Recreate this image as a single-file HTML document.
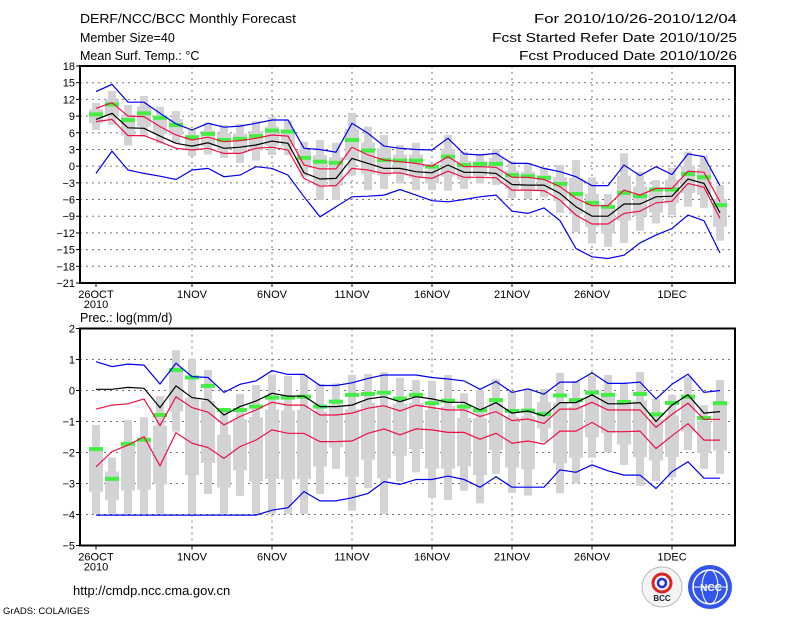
<!DOCTYPE html>
<html><head><meta charset="utf-8"><style>
html,body{margin:0;padding:0;background:#fff;}
svg{display:block;font-family:"Liberation Sans",sans-serif;}
</style></head><body>
<svg id="chart" width="800" height="618" viewBox="0 0 800 618" xmlns="http://www.w3.org/2000/svg">
<g font-size="12.5" fill="#000">
<text x="80" y="23" textLength="216" lengthAdjust="spacingAndGlyphs">DERF/NCC/BCC Monthly Forecast</text>
<text x="80" y="42">Member Size=40</text>
<text x="80" y="60">Mean Surf. Temp.: °C</text>
<text x="737" y="23" text-anchor="end" textLength="203" lengthAdjust="spacingAndGlyphs">For 2010/10/26-2010/12/04</text>
<text x="737" y="42" text-anchor="end" textLength="245" lengthAdjust="spacingAndGlyphs">Fcst Started Refer Date 2010/10/25</text>
<text x="737" y="60" text-anchor="end" textLength="218" lengthAdjust="spacingAndGlyphs">Fcst Produced Date 2010/10/26</text>
<text x="80" y="322">Prec.: log(mm/d)</text>
<text x="73" y="595" font-size="13">http://cmdp.ncc.cma.gov.cn</text>
<text x="3" y="614" font-size="9.5">GrADS: COLA/IGES</text>
</g>
<g>
<circle cx="662" cy="587" r="20" fill="#f4f4f4" stroke="#bbb"/>
<circle cx="662" cy="583" r="9" fill="none" stroke="#d22" stroke-width="3"/>
<circle cx="662" cy="583" r="4" fill="none" stroke="#23c" stroke-width="2.5"/>
<text x="662" y="601" font-size="8" text-anchor="middle" font-weight="bold" fill="#223">BCC</text>
</g>
<g>
<circle cx="710" cy="587" r="22" fill="#3355ee"/>
<circle cx="710" cy="587" r="17" fill="none" stroke="#fff" stroke-width="1.5"/>
<ellipse cx="710" cy="587" rx="8" ry="17" fill="none" stroke="#fff" stroke-width="1"/>
<line x1="693" y1="587" x2="727" y2="587" stroke="#fff"/>
<text x="711" y="591" font-size="10" text-anchor="middle" font-weight="bold" fill="#fff">NCC</text>
</g>
<g id="top"></g>
<g id="bot"></g>
</svg>
<script>
// ---- data: temperature (°C) ----
const days = ["26OCT","","","","","","1NOV","","","","","6NOV","","","","","11NOV","","","","","16NOV","","","","","21NOV","","","","","26NOV","","","","","1DEC","","",""];
const tempTicks = [18,15,12,9,6,3,0,-3,-6,-9,-12,-15,-18,-21];
const tMean = [8.4,9.5,6.9,6.8,5.4,4.1,3.6,4.2,3.2,3.4,3.8,4.5,4.1,-1.2,-2.3,-2.2,1.4,0.5,-0.4,-0.4,-1.0,-1.2,0.2,-1.1,-1.1,-1.3,-3.3,-3.4,-3.4,-4.9,-7.3,-9.0,-9.0,-6.8,-6.8,-5.5,-5.4,-2.3,-3.1,-8.4];
const tRedHi = [10.4,11.4,9.0,8.9,7.1,5.6,4.7,5.2,4.4,4.6,5.0,5.6,5.4,0.2,-0.5,-0.5,3.4,2.0,1.1,0.8,0.5,0.0,1.7,-0.1,-0.1,-0.2,-2.0,-2.0,-2.4,-3.7,-5.8,-7.1,-7.1,-4.3,-5.2,-4.0,-4.0,-0.9,-1.1,-6.4];
const tRedLo = [8.0,8.4,5.5,5.5,4.4,3.2,2.9,3.2,2.3,2.3,3.2,3.4,2.9,-2.2,-3.6,-3.5,-0.4,-0.7,-1.3,-1.2,-1.9,-2.2,-0.9,-2.0,-2.0,-2.1,-4.3,-4.3,-4.4,-6.1,-8.8,-10.4,-10.4,-8.5,-8.1,-6.6,-6.3,-3.1,-3.8,-9.4];
const tBlueHi = [13.4,14.7,11.5,11.5,9.5,7.6,6.5,7.7,7.0,7.2,7.7,8.3,8.3,3.2,3.0,2.5,7.7,5.9,3.6,3.2,3.0,2.9,5.0,2.2,2.0,2.3,0.5,0.5,-0.4,-1.0,-1.9,-3.5,-3.5,0.2,-1.7,-0.1,-1.5,2.2,1.7,-3.5];
const tBlueLo = [-1.3,2.7,-0.7,-1.3,-1.8,-2.4,-0.7,-0.4,-1.9,-1.6,-0.1,-0.4,-1.6,-5.5,-9.1,-7.3,-5.5,-5.4,-5.2,-4.2,-5.2,-6.2,-6.4,-6.0,-5.5,-5.2,-8.1,-8.5,-7.5,-9.8,-14.8,-16.3,-16.6,-16.0,-13.8,-12.4,-11.2,-8.8,-9.8,-15.6];
const tMedian = [9.3,11.1,8.3,9.5,8.7,7.4,5.2,5.8,4.7,4.9,5.4,6.4,6.2,1.5,0.8,0.6,4.7,2.8,1.1,1.0,1.0,-0.1,1.7,0.2,0.4,0.4,-1.6,-1.8,-2.1,-3.2,-5.0,-6.6,-7.3,-4.8,-5.4,-4.2,-4.2,-1.4,-2.0,-7.0];
const tMax = [11.4,13.5,11.0,12.6,10.7,9.9,6.5,7.8,7.4,7.6,8.1,8.8,8.2,4.4,4.7,4.2,9.6,7.1,5.6,3.8,4.2,0.5,5.6,2.6,2.2,3.1,0.9,0.6,-0.3,0.2,1.1,-2.0,-5.0,2.3,-1.0,-2.5,-0.3,2.6,1.9,-3.4];
const tMin = [6.5,7.4,3.7,5.3,4.1,4.1,1.8,2.1,1.5,0.6,1.0,2.0,2.0,-1.9,-6.1,-6.1,-1.7,-4.3,-4.1,-3.1,-4.3,-4.3,-4.4,-4.1,-3.1,-3.4,-5.7,-5.9,-5.6,-8.4,-11.8,-13.9,-14.5,-13.8,-11.6,-10.3,-8.8,-7.3,-7.5,-13.4];
// ---- data: precipitation log(mm/d) ----
const precTicks = [2,1,0,-1,-2,-3,-4,-5];
const pMean = [0.04,0.04,0.1,0.07,-0.55,0.15,-0.23,-0.3,-0.79,-0.52,-0.34,-0.09,-0.18,-0.18,-0.52,-0.52,-0.47,-0.27,-0.2,-0.36,-0.2,-0.27,-0.38,-0.38,-0.63,-0.39,-0.73,-0.66,-0.82,-0.39,-0.39,-0.14,-0.43,-0.43,-0.39,-1.0,-0.47,-0.14,-0.73,-0.68];
const pRedHi = [-0.6,-0.47,-0.43,-0.27,-1.13,-0.2,-0.55,-0.7,-1.11,-0.84,-0.63,-0.38,-0.47,-0.47,-0.79,-0.79,-0.73,-0.57,-0.49,-0.66,-0.47,-0.55,-0.63,-0.63,-0.84,-0.68,-0.97,-0.92,-1.06,-0.6,-0.6,-0.38,-0.63,-0.63,-0.63,-1.19,-0.77,-0.41,-0.93,-0.93];
const pRedLo = [-2.46,-1.97,-1.76,-1.49,-2.43,-1.36,-1.7,-1.84,-2.19,-1.81,-1.6,-1.27,-1.38,-1.38,-1.65,-1.65,-1.63,-1.38,-1.24,-1.43,-1.24,-1.27,-1.35,-1.35,-1.57,-1.38,-1.7,-1.63,-1.73,-1.31,-1.31,-1.03,-1.33,-1.33,-1.31,-1.87,-1.46,-1.07,-1.6,-1.6];
const pBlueHi = [0.93,0.77,0.85,0.82,0.21,0.88,0.45,0.42,-0.06,0.2,0.31,0.64,0.52,0.52,0.16,0.16,0.25,0.39,0.5,0.5,0.5,0.42,0.37,0.31,0.04,0.29,-0.06,0.05,-0.12,0.27,0.27,0.57,0.23,0.23,0.27,-0.27,0.2,0.53,-0.06,0.0];
const pBlueLo = [-4.02,-4.02,-4.02,-4.02,-4.02,-4.02,-4.02,-4.02,-4.02,-4.02,-4.02,-3.86,-3.78,-3.26,-3.56,-3.56,-3.46,-3.32,-2.94,-3.03,-2.87,-2.87,-2.76,-2.87,-3.12,-2.78,-3.12,-3.12,-3.12,-2.56,-2.64,-2.4,-2.59,-2.73,-2.73,-3.16,-2.62,-2.3,-2.83,-2.83];
const pMedian = [-1.89,-2.85,-1.72,-1.59,-0.79,0.66,0.42,0.15,-0.63,-0.63,-0.52,-0.23,-0.23,-0.2,-0.52,-0.36,-0.14,-0.11,-0.07,-0.26,-0.14,-0.41,-0.33,-0.52,-0.64,-0.31,-0.66,-0.65,-0.76,-0.16,-0.31,-0.07,-0.14,-0.37,-0.11,-0.77,-0.4,-0.2,-0.89,-0.41];
const pMax = [-1.11,-2.16,-0.95,-0.86,-0.18,1.3,1.02,0.66,-0.58,-0.11,0.18,0.52,0.47,0.5,0.21,0.23,0.5,0.53,0.59,0.41,0.34,0.31,0.5,-0.09,0.02,0.37,-0.04,0.02,0.05,0.57,0.31,0.48,0.5,0.23,0.59,-0.27,-0.14,0.45,-0.47,0.34];
const pMin = [-3.98,-3.98,-3.98,-3.98,-3.98,-1.33,-3.98,-3.34,-3.98,-3.4,-3.98,-3.98,-3.98,-3.98,-3.34,-2.53,-3.88,-3.15,-3.98,-2.94,-2.64,-3.46,-3.53,-3.23,-3.64,-2.69,-3.3,-3.39,-1.65,-3.32,-3.0,-2.17,-2.0,-2.4,-3.07,-2.92,-2.81,-1.92,-2.53,-2.69];

const NS = "http://www.w3.org/2000/svg";
function mk(parent, tag, attrs) {
  const e = document.createElementNS(NS, tag);
  for (const k in attrs) e.setAttribute(k, attrs[k]);
  parent.appendChild(e);
  return e;
}
const X0 = 80, X1 = 735;
const xDay = i => 96 + i * 16;

function panel(g, top, bottom, vmax, vmin, ticks, s) {
  const y = v => top + (vmax - v) / (vmax - vmin) * (bottom - top);
  // grid
  ticks.forEach(t => {
    const yy = y(t);
    if (t !== vmax && t !== vmin) {
      const gl = mk(g, "line", {x1: X0, x2: X1, y1: yy, y2: yy, stroke: "#777", "stroke-dasharray": "2,4", "stroke-width": 1});
      
      
    }
    const tk = mk(g, "line", {x1: X0 - 4, x2: X0, y1: yy, y2: yy, stroke: "#000"});
    
    
    const tl = mk(g, "text", {x: X0 - 5, y: yy + 4, "text-anchor": "end", "font-size": 11});
    tl.textContent = String(t).replace("-", "\u2212");
    
    
  });
  days.forEach((d, i) => {
    if (!d) return;
    const xx = xDay(i);
    if (i > 0) {
      const vl = mk(g, "line", {x1: xx, x2: xx, y1: top, y2: bottom, stroke: "#777", "stroke-dasharray": "2,4"});
      
      
    }
    const tk = mk(g, "line", {x1: xx, x2: xx, y1: bottom, y2: bottom + 4, stroke: "#000"});
    
    
    const tl = mk(g, "text", {x: xx, y: bottom + 15, "text-anchor": "middle", "font-size": 11});
    tl.textContent = d;
    
    
  });
  const yr = mk(g, "text", {x: xDay(0), y: bottom + 25, "text-anchor": "middle", "font-size": 11});
  yr.textContent = "2010";
  
  
  // boxes
  s.max.forEach((mx, i) => {
    const mn = s.min[i], xx = xDay(i);
    const r = mk(g, "rect", {x: xx - 4, y: y(mx), width: 8, height: y(mn) - y(mx), fill: "#d3d3d6"});
    
    
    const q3 = mx - (mx - mn) * 0.25, q1 = mn + (mx - mn) * 0.25;
    const b = mk(g, "rect", {x: xx - 7, y: y(q3), width: 14, height: y(q1) - y(q3), fill: "#d3d3d6"});
    
    
  });
  s.med.forEach((m, i) => {
    const r = mk(g, "rect", {x: xDay(i) - 7, y: y(m) - 2, width: 14, height: 4, fill: "#44ee44"});
    
    
  });
  const line = (arr, col, name) => {
    const p = mk(g, "polyline", {points: arr.map((v, i) => xDay(i) + "," + y(v).toFixed(1)).join(" "), fill: "none", stroke: col, "stroke-width": 1.2});
    
    
  };
  line(s.bhi, "#0000ee", "upper-blue-line");
  line(s.blo, "#0000ee", "lower-blue-line");
  line(s.rhi, "#ee1144", "upper-red-line");
  line(s.rlo, "#ee1144", "lower-red-line");
  line(s.mean, "#000", "ensemble-mean-line");
  const fr = mk(g, "rect", {x: X0, y: top, width: X1 - X0, height: bottom - top, fill: "none", stroke: "#000", "stroke-width": 2});
  
  
}
panel(document.getElementById("top"), 66, 283, 18, -21, tempTicks,
  {mean: tMean, rhi: tRedHi, rlo: tRedLo, bhi: tBlueHi, blo: tBlueLo, med: tMedian, max: tMax, min: tMin});
panel(document.getElementById("bot"), 328.5, 545.5, 2, -5, precTicks,
  {mean: pMean, rhi: pRedHi, rlo: pRedLo, bhi: pBlueHi, blo: pBlueLo, med: pMedian, max: pMax, min: pMin});
</script>
</body></html>
